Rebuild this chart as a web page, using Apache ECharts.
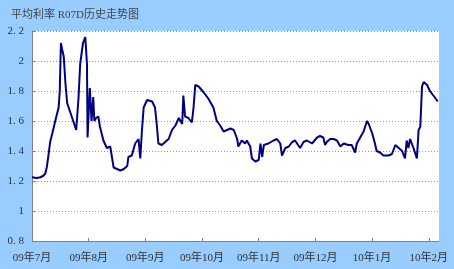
<!DOCTYPE html>
<html>
<head>
<meta charset="utf-8">
<script src="https://cdn.jsdelivr.net/npm/echarts@6/dist/echarts.min.js"></script>
<style>
html,body{margin:0;padding:0;background:#99CCFF;}
#c{width:454px;height:269px;}
</style>
</head>
<body>
<div id="c"></div>
<script>
const titleText = '平均利率 R07D历史走势图';
const tickLabels = ['09年7月','09年8月','09年9月','09年10月','09年11月','09年12月','10年1月','10年2月'];
// position in months since 2009-07-01
const xMonth = [0.00,0.08,0.15,0.20,0.235,0.26,0.29,0.32,0.36,0.41,0.47,0.49,0.51,0.53,0.56,0.59,0.62,0.70,0.78,0.82,0.85,0.90,0.94,0.97,0.98,1.02,1.05,1.08,1.10,1.13,1.17,1.20,1.26,1.32,1.38,1.41,1.44,1.50,1.56,1.62,1.68,1.70,1.76,1.82,1.88,1.91,1.94,1.97,2.03,2.12,2.17,2.20,2.23,2.29,2.35,2.41,2.47,2.53,2.59,2.65,2.67,2.70,2.76,2.82,2.85,2.88,2.94,3.03,3.11,3.20,3.26,3.32,3.38,3.44,3.50,3.56,3.62,3.64,3.70,3.73,3.76,3.79,3.85,3.88,3.94,4.00,4.03,4.06,4.09,4.17,4.26,4.32,4.38,4.41,4.47,4.53,4.59,4.64,4.67,4.73,4.79,4.85,4.94,5.03,5.08,5.14,5.17,5.20,5.26,5.32,5.38,5.44,5.50,5.58,5.64,5.70,5.73,5.79,5.85,5.91,5.94,6.00,6.05,6.08,6.14,6.20,6.23,6.29,6.32,6.35,6.38,6.41,6.47,6.53,6.58,6.61,6.64,6.67,6.70,6.73,6.79,6.82,6.85,6.88,6.91,6.97,7.02,7.08,7.11,7.14,7.155];
const rate = [1.225,1.22,1.225,1.235,1.25,1.29,1.37,1.46,1.52,1.60,1.69,1.80,2.12,2.08,2.03,1.85,1.72,1.63,1.54,1.75,1.98,2.12,2.16,1.98,1.49,1.82,1.60,1.76,1.60,1.62,1.63,1.56,1.47,1.42,1.43,1.42,1.29,1.28,1.27,1.28,1.30,1.36,1.37,1.45,1.48,1.35,1.54,1.69,1.74,1.73,1.69,1.58,1.45,1.44,1.46,1.48,1.54,1.57,1.62,1.58,1.77,1.63,1.62,1.59,1.69,1.84,1.83,1.79,1.75,1.69,1.60,1.57,1.53,1.54,1.55,1.54,1.48,1.43,1.47,1.48,1.45,1.47,1.43,1.35,1.33,1.34,1.45,1.36,1.44,1.45,1.47,1.48,1.45,1.37,1.42,1.43,1.46,1.47,1.46,1.42,1.46,1.47,1.45,1.49,1.50,1.49,1.44,1.46,1.48,1.48,1.47,1.43,1.45,1.44,1.44,1.39,1.45,1.49,1.53,1.60,1.58,1.52,1.45,1.40,1.39,1.37,1.38,1.37,1.36,1.38,1.37,1.44,1.42,1.40,1.35,1.47,1.42,1.48,1.47,1.42,1.35,1.54,1.56,1.83,1.86,1.84,1.80,1.77,1.78,1.74,1.73];

const fontFam = '"Liberation Serif","Noto Sans CJK SC",serif';
const chart = echarts.init(document.getElementById('c'), null, {renderer:'canvas'});
chart.setOption({
  backgroundColor:'#99CCFF',
  animation:false,
  title:{text:titleText,left:6,top:5,textStyle:{fontSize:11,fontWeight:'normal',color:'#444',fontFamily:fontFam}},
  grid:{left:32,right:15,top:31,bottom:28,show:true,backgroundColor:'#ffffff',borderWidth:0},
  xAxis:{type:'value',min:0,max:7.18,interval:1,
    axisLine:{show:true,lineStyle:{color:'#808080',width:1}},
    axisTick:{show:true,inside:true,length:3,customValues:[0,1,2,3,4,5,6,7],lineStyle:{color:'#808080'}},
    axisLabel:{customValues:[0,1,2,3,4,5,6,7],formatter:v=>tickLabels[Math.round(v)]||'',margin:12,fontSize:11,color:'#333',fontFamily:fontFam},
    splitLine:{show:false}},
  yAxis:{type:'value',min:0.8,max:2.2,interval:0.2,
    axisLine:{show:true,lineStyle:{color:'#808080',width:1}},
    axisTick:{show:true,inside:true,length:3,lineStyle:{color:'#808080'}},
    axisLabel:{formatter:v=>String(Math.round(v*10)/10).replace('.','. '),margin:8,fontSize:11,color:'#333',fontFamily:fontFam},
    splitLine:{show:true,lineStyle:{color:'#999',type:[1,2],width:1}}},
  series:[{type:'line',data:xMonth.map((x,i)=>[x,rate[i]]),showSymbol:false,symbol:'none',
    lineStyle:{color:'#000080',width:2},smooth:false}]
});
</script>
</body>
</html>
